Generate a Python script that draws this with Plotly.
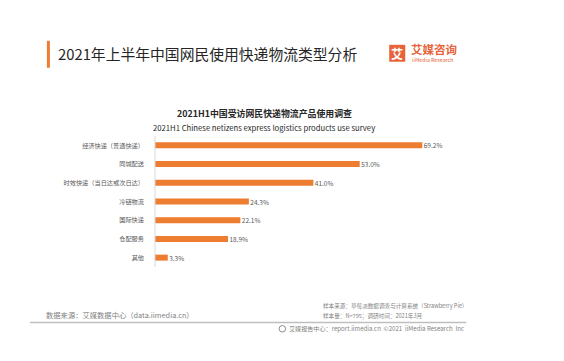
import plotly.graph_objects as go

categories = ["经济快递（普通快递）", "同城配送", "时效快递（当日达或次日达）", "冷链物流", "国际快递", "仓配服务", "其他"]
values = [69.2, 53.0, 41.0, 24.3, 22.1, 18.9, 3.3]

title = "2021年上半年中国网民使用快递物流类型分析"
sub_cn = "2021H1中国受访网民快递物流产品使用调查"
sub_en = "2021H1 Chinese netizens express logistics products use survey"
src_left = "数据来源：艾媒数据中心（data.iimedia.cn）"
src_r1 = "样本来源：草莓派数据调查与计算系统（Strawberry Pie）"
src_r2 = "样本量：N=795；调研时间：2021年3月"
footer = "艾媒报告中心：report.iimedia.cn  ©2021  iiMedia Research  Inc"

OFF = 8  # page body margin
W, H = 564 - OFF, 361 - OFF
L = 155 - OFF
T = 135.6 - OFF
PW = 463.7 - 155
PH = 267.2 - 135.6
R = W - L - PW
B = H - T - PH
FONT = "Noto Sans CJK SC"
ORANGE = "#ED7D31"


def xp(px):
    return (px - OFF - L) / PW


def yp(py):
    return 1 - (py - OFF - T) / PH


fig = go.Figure(go.Bar(
    x=values, y=categories, orientation="h",
    marker=dict(color=ORANGE, line=dict(width=0)),
    width=0.32,
    text=[f"\u00a0{v:.1f}%" for v in values], textposition="outside",
    constraintext="none",
    textfont=dict(size=6.5, color="#595959", family=FONT),
    cliponaxis=False,
))

fig.update_layout(
    width=W, height=H,
    margin=dict(l=L, r=R, t=T, b=B, pad=0),
    paper_bgcolor="white", plot_bgcolor="white",
    font=dict(family=FONT),
    showlegend=False,
    xaxis=dict(range=[0, 80], visible=False),
    yaxis=dict(autorange="reversed", showgrid=False, zeroline=False,
               showline=False, ticks="", ticklabelstandoff=10,
               tickfont=dict(size=6.2, color="#595959", family=FONT)),
)

shapes = [
    dict(type="rect", xref="paper", yref="paper", x0=xp(47), x1=xp(50), y0=yp(40), y1=yp(67),
         fillcolor=ORANGE, line=dict(width=0)),
    dict(type="line", xref="paper", yref="paper", x0=0, x1=0, y0=0, y1=1,
         line=dict(color="#d9d9d9", width=1)),
    dict(type="rect", xref="paper", yref="paper", x0=xp(389), x1=xp(405), y0=yp(44), y1=yp(61),
         fillcolor="#E8623A", line=dict(width=0)),
    dict(type="line", xref="paper", yref="paper", x0=xp(30), x1=xp(466), y0=yp(323), y1=yp(323),
         line=dict(color="#bfbfbf", width=1.5)),
    dict(type="circle", xref="paper", yref="paper", x0=xp(279), x1=xp(285.5), y0=yp(326), y1=yp(332.5),
         line=dict(color="#8c8c8c", width=1)),
]
fig.update_layout(shapes=shapes)


def ann(text, x, y, size, color, xanchor="left", bold=False):
    if bold:
        text = f"<b>{text}</b>"
    fig.add_annotation(text=text, x=xp(x), y=yp(y), xref="paper", yref="paper",
                       xanchor=xanchor, yanchor="middle", showarrow=False,
                       font=dict(size=size, color=color, family=FONT))


ann(title, 56, 53, 14.8, "#262626")
ann("艾", 397, 52.5, 12, "white", xanchor="center", bold=True)
ann("艾媒咨询", 409, 48.5, 11.5, "#E8623A", bold=True)
ann("iiMedia Research", 409.5, 59, 5.3, "#E8623A")
ann(sub_cn, 264, 113, 8.9, "#262626", xanchor="center", bold=True)
ann(sub_en, 264, 127.5, 7.7, "#262626", xanchor="center")
ann(src_left, 44, 315, 7.3, "#7f7f7f")
ann(src_r1, 321, 306, 5.6, "#7f7f7f")
ann(src_r2, 321, 316, 5.6, "#7f7f7f")
ann(footer, 287, 329, 6.1, "#7f7f7f")

fig.write_html("out.html")
